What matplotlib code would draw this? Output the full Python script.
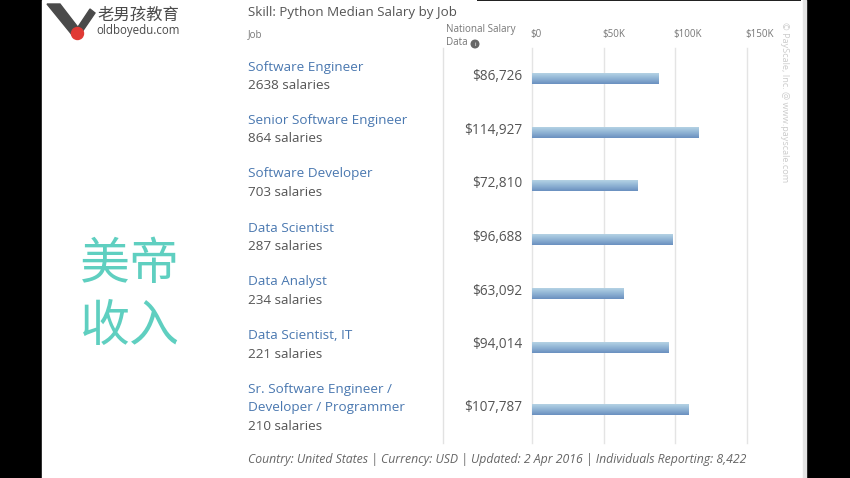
import numpy as np
import matplotlib
matplotlib.use("Agg")
import matplotlib.pyplot as plt
from matplotlib.patches import Circle, Polygon, Rectangle
from matplotlib.transforms import ScaledTranslation

plt.rcParams['font.family'] = ['Open Sans', 'DejaVu Sans']

W, H = 850, 478

jobs = ["Software Engineer", "Senior Software Engineer", "Software Developer",
        "Data Scientist", "Data Analyst", "Data Scientist, IT",
        "Sr. Software Engineer /\nDeveloper / Programmer"]
counts = [2638, 864, 703, 287, 234, 221, 210]
salary_labels = ["$86,726", "$114,927", "$72,810", "$96,688", "$63,092", "$94,014", "$107,787"]
# bar lengths as read against the gridlines, the source draws them a bit long
bar_values = [88000, 116500, 73500, 97800, 64000, 95300, 109000]
ticks = [0, 50000, 100000, 150000]
tick_labels = ["$0", "$50K", "$100K", "$150K"]

row_y = [79, 132.5, 186, 240, 294, 347.5, 410]

fig = plt.figure(figsize=(W / 100, H / 100), dpi=100, facecolor='black')

# page layer in pixel coordinates
page = fig.add_axes([0, 0, 1, 1])
page.set_xlim(0, W)
page.set_ylim(H, 0)
page.axis('off')
page.add_patch(Rectangle((42, 0), 761, H, color='white', zorder=0))
page.add_patch(Rectangle((803, 0), 3, H, color='#e4e4e4', zorder=0))
page.add_patch(Rectangle((477, 0), 324, 1, color='#222222', lw=0, zorder=1))

# logo
page.add_patch(Polygon([(47, 4), (60, 4), (80, 30), (73, 36)], color='#4a4a4a'))
page.add_patch(Polygon([(82, 32), (78, 27), (90, 9), (95, 13)], color='#4a4a4a'))
page.add_patch(Circle((77.5, 33.5), 6, color='#e03a35', zorder=3))
page.text(97, 15, "老男孩教育", fontsize=11.8, color='#4a4a4a', va='center',
          family=['Noto Sans CJK SC', 'DejaVu Sans'])
page.text(96, 30, "oldboyedu.com", fontsize=8.3, color='#4a4a4a', va='center')

page.text(130, 296, "美帝\n收入", fontsize=36, color='#5fcfc0', ha='center', va='center',
          linespacing=1.25, family=['Noto Sans CJK SC', 'DejaVu Sans'])

# table text
page.text(248, 12, "Skill: Python Median Salary by Job", fontsize=9.65, color='#555555', va='center')
page.text(248, 35, "Job", fontsize=7, color='#777777', va='center')
page.text(446, 29, "National Salary", fontsize=7.1, color='#777777', va='center')
page.text(446, 42, "Data", fontsize=7.1, color='#777777', va='center')
page.add_patch(Circle((475, 44), 3.8, color='#666666'))
page.text(475, 44, "i", fontsize=4.5, color='white', ha='center', va='center')

for job, count, label, y in zip(jobs, counts, salary_labels, row_y):
    n_lines = job.count("\n") + 1
    top = y - 12 if n_lines == 1 else y - 21
    for i, line in enumerate(job.split("\n")):
        page.text(248, top + i * 19, line, fontsize=9.7, color='#4a78b0', va='center')
    page.text(248, top + n_lines * 19 - 0.5, f"{count} salaries", fontsize=9.7, color='#555555', va='center')
    page.text(522, y - 2.5, label, fontsize=9.8, color='#555555', ha='right', va='center')

page.plot([443, 443], [48, 443], color='#e2e2e2', lw=1)
page.text(248, 460, "Country: United States | Currency: USD | Updated: 2 Apr 2016 | Individuals Reporting: 8,422",
          fontsize=8.85, color='#666666', style='italic', va='center')
page.text(785, 102, "© PayScale, Inc. @ www.payscale.com", fontsize=6.6, color='#cccccc',
          rotation=270, ha='center', va='center')

# bars on a real value axis, $0 at x=532 and $150K at x=747
ax = fig.add_axes([532 / W, 1 - 443 / H, (747 - 532) / W, (443 - 48) / H])
ax.patch.set_alpha(0)
for s in ax.spines.values():
    s.set_visible(False)
ax.set_xticks(ticks)
ax.set_xticklabels(tick_labels, fontsize=7, color='#777777', ha='left')
ax.xaxis.tick_top()
ax.tick_params(axis='x', length=0, pad=6)
ax.set_yticks([])
ax.grid(axis='x', color='#e4e4e4', lw=1)
ax.set_axisbelow(True)
for line in ax.get_xgridlines():
    line.set_clip_on(False)
# labels start just left of their gridline
nudge = ScaledTranslation(-1.5 / 100, 0, fig.dpi_scale_trans)
for lbl in ax.get_xticklabels():
    lbl.set_transform(lbl.get_transform() + nudge)

gradient = np.linspace(0, 1, 32).reshape(-1, 1)
cmap = matplotlib.colors.LinearSegmentedColormap.from_list(
    'bar', ['#b4d2e4', '#8fb3d4', '#6a90c0'])
for value, y in zip(bar_values, row_y):
    ax.imshow(gradient, extent=(0, value, y + 5.3, y - 5.3), cmap=cmap, aspect='auto', zorder=2)
ax.set_xlim(0, 150000)
ax.set_ylim(443, 48)

fig.savefig("out.png", dpi=100, facecolor=fig.get_facecolor())
